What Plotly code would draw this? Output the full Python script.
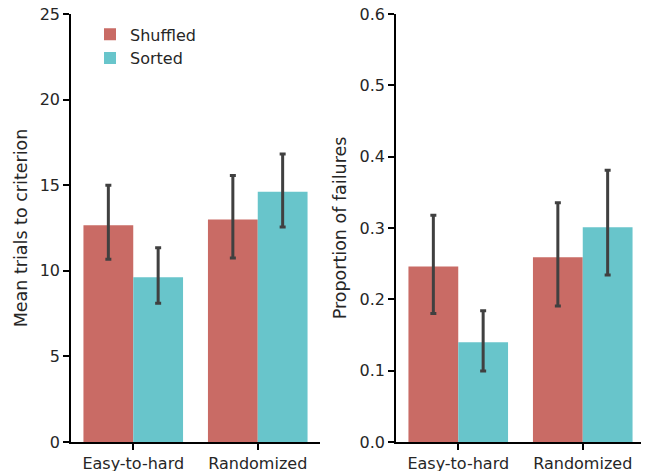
import plotly.graph_objects as go
from plotly.subplots import make_subplots

categories = ["Easy-to-hard", "Randomized"]
series_names = ["Shuffled", "Sorted"]

trials_shuffled = [12.66, 12.99]
trials_shuffled_hi = [15.0, 15.56]
trials_shuffled_lo = [10.67, 10.75]
trials_sorted = [9.62, 14.62]
trials_sorted_hi = [11.35, 16.82]
trials_sorted_lo = [8.1, 12.56]

fail_shuffled = [0.246, 0.259]
fail_shuffled_hi = [0.318, 0.3355]
fail_shuffled_lo = [0.180, 0.1907]
fail_sorted = [0.140, 0.301]
fail_sorted_hi = [0.184, 0.381]
fail_sorted_lo = [0.0995, 0.234]

colors = ["#c96b65", "#68c5cb"]
err_color = "#404040"
FONT = "DejaVu Sans"
TXT = "#262626"

# page body has an 8px margin, so the figure is sized to fit the window
W, H = 641, 463
OFF = 8

fig = make_subplots(rows=1, cols=2)

def add(col, vals, hi, lo, name, color, show):
    fig.add_trace(go.Bar(
        x=categories, y=vals, name=name, marker=dict(color=color, line=dict(width=0)),
        showlegend=show,
        error_y=dict(type="data", symmetric=False,
                     array=[h - v for h, v in zip(hi, vals)],
                     arrayminus=[v - l for l, v in zip(lo, vals)],
                     color=err_color, thickness=3, width=3),
    ), row=1, col=col)

add(1, trials_shuffled, trials_shuffled_hi, trials_shuffled_lo, series_names[0], colors[0], True)
add(1, trials_sorted, trials_sorted_hi, trials_sorted_lo, series_names[1], colors[1], True)
add(2, fail_shuffled, fail_shuffled_hi, fail_shuffled_lo, series_names[0], colors[0], False)
add(2, fail_sorted, fail_sorted_hi, fail_sorted_lo, series_names[1], colors[1], False)

axis_common = dict(showgrid=False, zeroline=False, showline=True, linecolor="#000000",
                   linewidth=1.6, ticks="outside", ticklen=6, tickwidth=1.6,
                   tickcolor="#000000", tickfont=dict(family=FONT, size=16, color=TXT),
                   ticklabeloverflow="allow")

fig.update_xaxes(**axis_common, range=[-0.5, 1.5])
fig.update_xaxes(domain=[(71 - OFF) / W, (320 - OFF) / W], row=1, col=1)
fig.update_xaxes(domain=[(396 - OFF) / W, (645 - OFF) / W], row=1, col=2)
fig.update_yaxes(**axis_common)
fig.update_yaxes(range=[0, 25], tickvals=[0, 5, 10, 15, 20, 25],
                 title=dict(text="Mean trials to criterion", font=dict(family=FONT, size=17.5, color=TXT), standoff=8),
                 row=1, col=1)
fig.update_yaxes(range=[0, 0.6], tickvals=[0, 0.1, 0.2, 0.3, 0.4, 0.5, 0.6], tickformat=".1f",
                 title=dict(text="Proportion of failures", font=dict(family=FONT, size=17.5, color=TXT), standoff=8),
                 row=1, col=2)

fig.update_layout(
    width=W, height=H,
    margin=dict(l=0, r=0, t=14 - OFF, b=H - (442 - OFF), autoexpand=False),
    paper_bgcolor="white", plot_bgcolor="white",
    barmode="group", bargap=0.2, bargroupgap=0,
    font=dict(family=FONT, size=16, color=TXT),
    legend=dict(x=82 / W, y=0.992, xanchor="left", yanchor="top", bgcolor="rgba(0,0,0,0)",
                font=dict(family=FONT, size=16, color=TXT), itemwidth=30,
                tracegroupgap=0),
)

fig.write_html("out.html")
